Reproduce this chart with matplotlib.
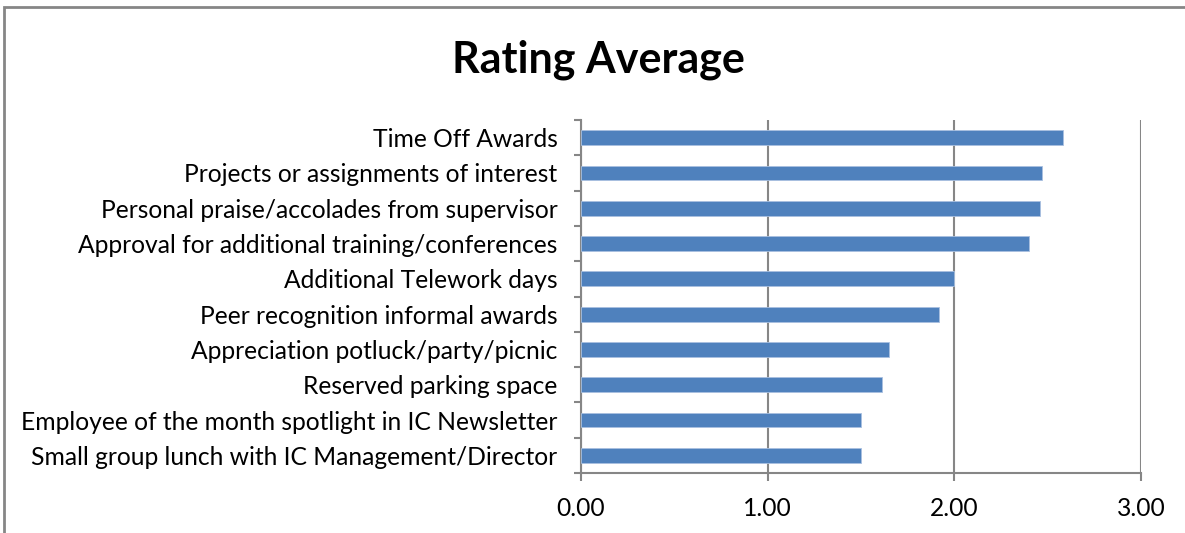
import matplotlib
matplotlib.use("Agg")
import matplotlib.pyplot as plt
from matplotlib.patches import Rectangle

categories = [
    "Time Off Awards",
    "Projects or assignments of interest",
    "Personal praise/accolades from supervisor",
    "Approval for additional training/conferences",
    "Additional Telework days",
    "Peer recognition informal awards",
    "Appreciation potluck/party/picnic",
    "Reserved parking space",
    "Employee of the month spotlight in IC Newsletter",
    "Small group lunch with IC Management/Director",
]
ratings = [2.58, 2.47, 2.46, 2.40, 2.00, 1.92, 1.65, 1.61, 1.50, 1.50]
x_ticks = [0.0, 1.0, 2.0, 3.0]

plt.rcParams["font.family"] = ["Lato", "DejaVu Sans"]
GRAY = "#868686"

fig = plt.figure(figsize=(11.85, 5.33), dpi=100)
ax = fig.add_axes([581 / 1185, 1 - 473 / 533, (1141 - 581) / 1185, (473 - 120) / 533])

ypos = list(range(len(categories)))[::-1]
ax.barh(ypos, ratings, height=0.42, color="#4F81BD", edgecolor="#a9c0e0", linewidth=0.6, zorder=3)

ax.set_xlim(0, 3)
ax.set_ylim(-0.5, len(categories) - 0.5)
ax.set_xticks(x_ticks)
ax.set_xticklabels([f"{v:.2f}" for v in x_ticks], fontsize=17.7)
ax.set_yticks(ypos)
ax.set_yticklabels(categories, fontsize=17.7)
ax.set_yticks([i - 0.5 for i in range(len(categories) + 1)], minor=True)

ax.tick_params(axis="y", which="major", length=0, pad=17)
ax.tick_params(axis="y", which="minor", length=5, color=GRAY, width=1.5)
ax.tick_params(axis="x", length=6, color=GRAY, width=1.5, pad=11)

ax.grid(axis="x", color=GRAY, linewidth=1.5, zorder=0)
for s in ["top", "right"]:
    ax.spines[s].set_visible(False)
for s in ["left", "bottom"]:
    ax.spines[s].set_color(GRAY)
    ax.spines[s].set_linewidth(1.5)

fig.text(598 / 1185, 1 - 60 / 533, "Rating Average", ha="center", va="center",
         fontsize=31, fontweight="bold")

fig.patches.append(Rectangle((4 / 1185, -0.1), 1.2, 1.1 - 7 / 533, transform=fig.transFigure,
                             fill=False, edgecolor=GRAY, linewidth=2))

fig.savefig("out.png", dpi=100)
